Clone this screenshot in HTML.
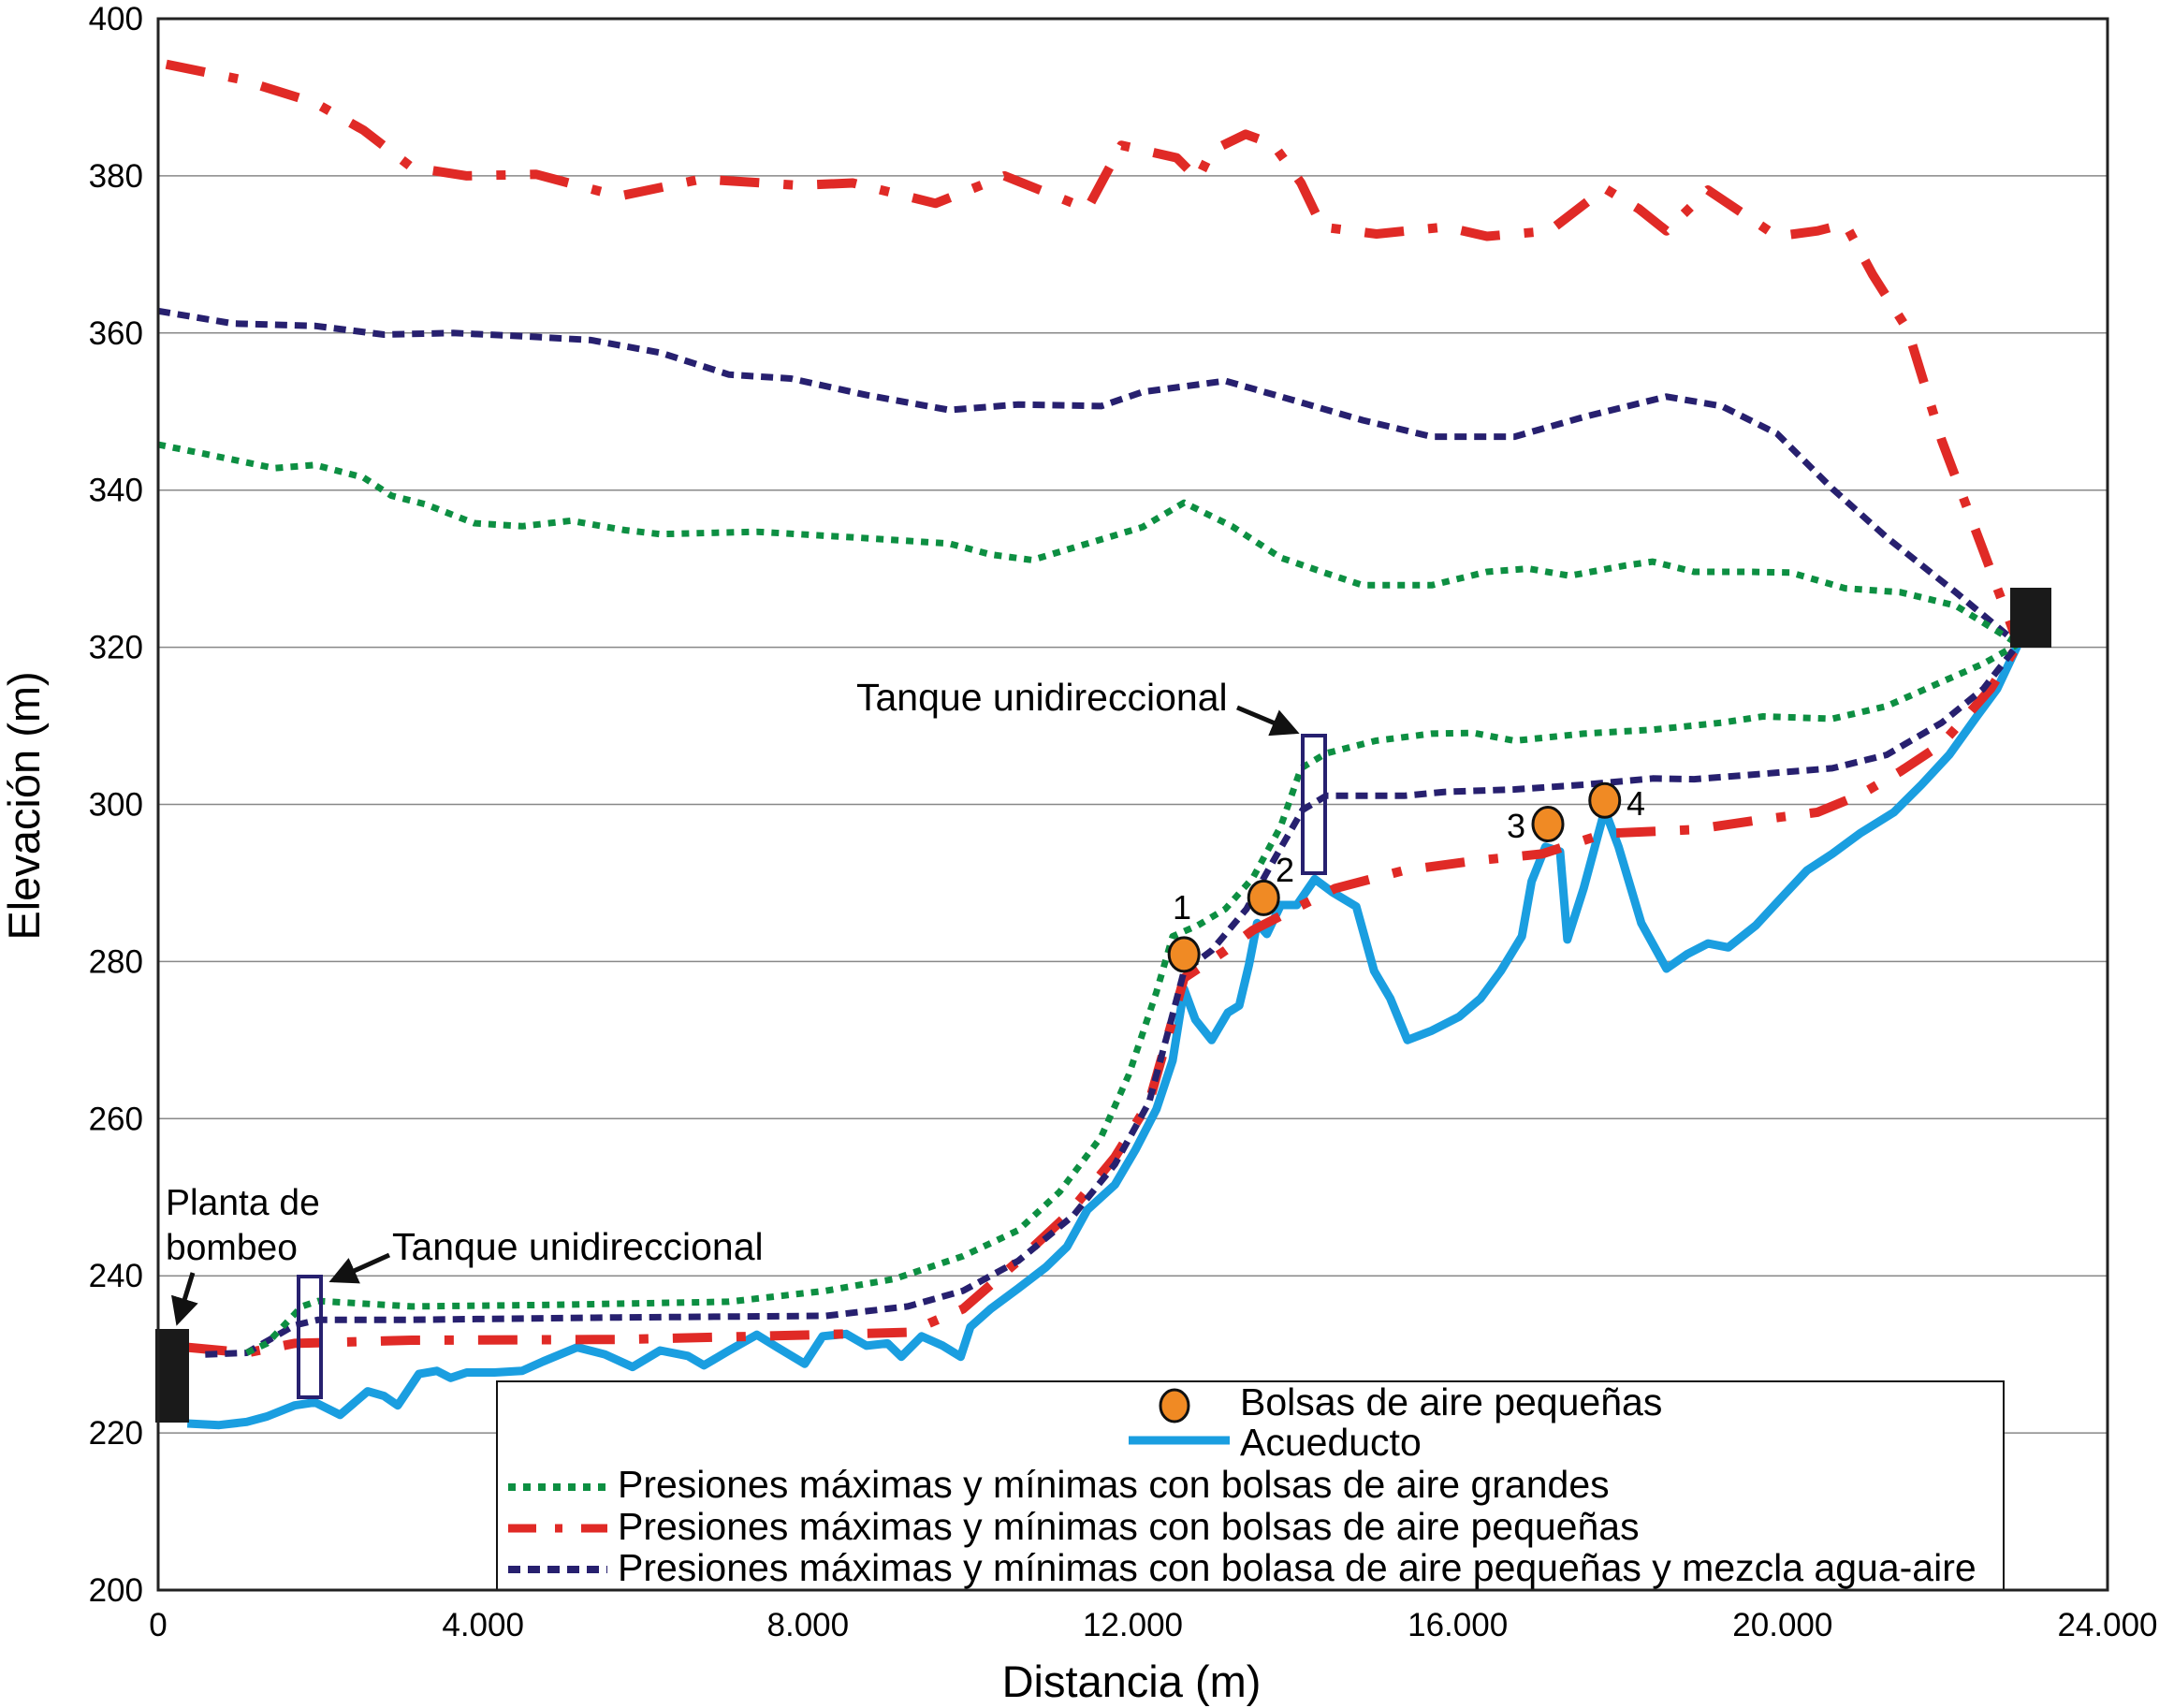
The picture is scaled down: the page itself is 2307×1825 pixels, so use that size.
<!DOCTYPE html>
<html><head><meta charset="utf-8"><style>
html,body{margin:0;padding:0;background:#fff;}
svg{display:block;font-family:"Liberation Sans",Arial,sans-serif;}
</style></head><body>
<svg id="chart" width="2307" height="1825" viewBox="0 0 2307 1825" xmlns="http://www.w3.org/2000/svg">
<g id="grid"></g>
<g id="series"></g>
<g id="axes"></g>
</svg>
<script>
const xTicks=[0,4,8,12,16,20,24];
const xTickLabels=["0","4.000","8.000","12.000","16.000","20.000","24.000"];
const yTicks=[200,220,240,260,280,300,320,340,360,380,400];
const acueductoX=[0.36,0.75,1.09,1.34,1.68,1.93,2.24,2.58,2.78,2.95,3.21,3.43,3.60,3.80,4.14,4.48,4.74,5.16,5.50,5.84,6.18,6.52,6.72,7.03,7.37,7.62,7.96,8.18,8.47,8.72,8.98,9.15,9.40,9.66,9.88,10.0,10.25,10.59,10.93,11.19,11.44,11.78,12.03,12.29,12.49,12.63,12.77,12.97,13.17,13.31,13.43,13.53,13.65,13.82,14.02,14.24,14.46,14.75,14.97,15.17,15.38,15.68,16.02,16.28,16.53,16.79,16.91,17.08,17.26,17.35,17.55,17.81,17.98,18.26,18.57,18.82,19.08,19.33,19.67,20.01,20.30,20.61,20.95,21.37,21.71,22.05,22.39,22.64,22.90];
const acueductoY=[221.2,221.0,221.4,222.1,223.5,223.9,222.3,225.3,224.7,223.5,227.5,227.9,227.0,227.7,227.7,227.9,229.1,230.9,230.0,228.4,230.5,229.8,228.6,230.5,232.5,230.9,228.8,232.3,232.6,231.1,231.4,229.7,232.3,231.1,229.7,233.5,235.8,238.4,241.1,243.7,248.4,251.6,256.0,261.2,267.4,276.5,272.6,270.0,273.5,274.4,279.6,284.9,283.5,287.2,287.2,290.5,288.8,287.0,278.8,275.3,270.0,271.2,273.0,275.3,278.8,283.2,290.2,294.6,294.0,282.8,289.3,299.3,294.6,284.9,279.1,280.9,282.3,281.8,284.6,288.4,291.6,293.7,296.3,299.0,302.5,306.3,311.2,314.7,320.4];
const greenMaxX=[0,0.58,1.43,1.93,2.53,2.87,3.29,3.89,4.48,5.08,5.75,6.18,7.37,8.55,9.74,10.25,10.76,11.44,12.12,12.63,13.22,13.82,14.33,14.83,15.68,16.36,16.87,17.38,18.06,18.40,18.91,19.59,20.10,20.77,21.45,22.13,22.9];
const greenMaxY=[345.8,344.6,342.8,343.2,341.6,339.3,338.2,335.8,335.4,336.1,334.9,334.4,334.7,334.0,333.2,331.8,331.1,333.2,335.3,338.4,335.4,331.4,329.6,327.9,327.9,329.6,330.0,329.1,330.4,330.9,329.6,329.6,329.5,327.5,327.0,325.3,320.4];
const greenMinX=[1.09,1.34,1.77,1.97,3.12,4.82,7.03,8.22,9.06,9.91,10.59,11.10,11.61,11.95,12.29,12.49,12.80,13.14,13.48,13.82,14.07,14.38,14.99,15.68,16.19,16.70,17.55,18.40,19.25,19.76,20.61,21.28,21.96,22.47,22.9];
const greenMinY=[230.2,231.4,236.1,236.8,236.1,236.3,236.7,238.1,239.6,242.5,245.8,250.7,257.7,265.6,276.1,283.2,284.6,286.7,290.7,297.2,304.6,306.5,308.1,309.0,309.1,308.1,309.0,309.5,310.4,311.2,310.9,312.5,315.6,317.9,320.4];
const navyMaxX=[0,0.92,1.93,2.78,3.63,4.48,5.33,6.18,7.03,7.79,8.72,9.74,10.59,11.61,12.12,13.14,13.82,14.83,15.68,16.70,17.55,18.57,19.25,19.93,20.61,21.28,22.13,22.9];
const navyMaxY=[362.8,361.2,360.9,359.8,360.0,359.6,359.1,357.5,354.7,354.2,352.1,350.2,350.9,350.7,352.5,353.9,351.9,348.9,346.8,346.8,349.3,351.9,350.7,347.2,340.2,334.0,327.0,320.4];
const navyMinX=[0.58,1.09,1.68,1.97,3.12,5.67,8.22,9.23,9.91,10.59,11.27,11.78,12.20,12.43,12.63,12.97,13.40,13.73,14.09,14.38,15.34,15.85,16.70,17.55,18.40,18.91,19.76,20.61,21.28,21.96,22.47,22.9];
const navyMinY=[230.0,230.2,233.7,234.4,234.4,234.7,234.9,236.1,238.1,241.9,247.7,254.2,262.1,270.9,278.8,281.4,286.7,292.8,299.3,301.1,301.1,301.6,301.9,302.5,303.3,303.2,303.9,304.6,306.3,310.4,314.7,320.4];
const redMaxX=[0.10,1.00,1.93,2.53,3.12,3.80,4.65,5.67,6.69,7.88,8.55,9.57,10.42,11.44,11.86,12.54,12.80,12.97,13.39,13.73,14.07,14.33,15.00,15.85,16.36,17.13,17.81,18.23,18.57,19.08,19.50,19.93,20.43,20.77,21.11,21.54,21.96,22.47,22.9];
const redMaxY=[394.2,392.3,389.3,385.8,381.1,380.0,380.2,377.4,379.6,378.8,379.1,376.5,380.0,375.8,383.9,382.3,379.6,383.2,385.3,384.0,379.1,373.5,372.6,373.5,372.3,373.0,378.4,375.8,373.0,378.2,375.3,372.3,373.0,373.9,367.4,360.4,346.3,332.3,320.4];
const redMinX=[0.36,1.09,1.68,3.12,5.67,7.37,9.23,9.91,10.59,11.19,11.78,12.20,12.49,12.63,13.14,13.48,13.99,14.49,15.34,16.19,17.04,17.81,18.91,19.76,20.43,20.95,21.45,21.96,22.56,22.9];
const redMinY=[230.9,230.2,231.4,231.8,231.9,232.3,232.8,235.8,241.9,247.7,255.1,262.1,272.6,277.9,281.4,284.0,286.7,289.3,291.6,292.8,293.7,296.3,296.8,298.1,299.0,301.2,304.2,307.7,314.7,320.4];
const bubbleX=[12.63,13.61,17.11,17.81];
const bubbleY=[280.9,288.1,297.5,300.5];

const NS="http://www.w3.org/2000/svg";
const L=169,R=2252,T=20,B=1699;
function X(k){return L+(k-0)/(24-0)*(R-L);}
function Y(e){return B-(e-200)/(400-200)*(B-T);}
function mk(tag,attrs,parent){const el=document.createElementNS(NS,tag);for(const k in attrs)el.setAttribute(k,attrs[k]);parent.appendChild(el);return el;}
const grid=document.getElementById('grid'),ser=document.getElementById('series'),ax=document.getElementById('axes');

yTicks.forEach(v=>{
  if(v>200&&v<400){const g=mk('line',{x1:L,x2:R,y1:Y(v),y2:Y(v),stroke:'#888','stroke-width':1.5},grid);
  
  }
  const t=mk('text',{x:153,y:Y(v)+12,'text-anchor':'end','font-size':35,fill:'#000'},ax);
  t.textContent=v;
  
  
});
xTicks.forEach((v,i)=>{
  const t=mk('text',{x:X(v),y:1748,'text-anchor':'middle','font-size':35,fill:'#000'},ax);
  t.textContent=xTickLabels[i];
  
  
});

function line(xs,ys,style,name){
  const d=xs.map((x,i)=>(i?'L':'M')+X(x).toFixed(1)+','+Y(ys[i]).toFixed(1)).join(' ');
  const p=mk('path',Object.assign({d:d,fill:'none','stroke-linejoin':'round'},style),ser);
  
  
}
const green={stroke:'#0d8f42','stroke-width':7,'stroke-dasharray':'8 8'};
const red={stroke:'#e02a26','stroke-width':10,'stroke-dasharray':'42 26 10 26'};
const navy={stroke:'#27206f','stroke-width':7,'stroke-dasharray':'13 8'};
line(redMaxX,redMaxY,red,'red-max-line');
line(navyMaxX,navyMaxY,navy,'navy-max-line');
line(greenMaxX,greenMaxY,green,'green-max-line');
line(acueductoX,acueductoY,{stroke:'#1a9ee0','stroke-width':9},'acueducto-line');
line(redMinX,redMinY,red,'red-min-line');
line(navyMinX,navyMinY,navy,'navy-min-line');
line(greenMinX,greenMinY,green,'green-min-line');
bubbleX.forEach((bx,i)=>{
  const c=mk('ellipse',{cx:X(bx),cy:Y(bubbleY[i]),rx:16,ry:18,fill:'#f08a24',stroke:'#111','stroke-width':3},ser);
  
  
});
</script>
<svg style="position:absolute;left:0;top:0" width="2307" height="1825" font-family="Liberation Sans, Arial, sans-serif">
<defs><marker id="ah2" markerWidth="6" markerHeight="6" refX="5" refY="3" orient="auto" viewBox="0 0 6 6"><path d="M0,0 L6,3 L0,6 z" fill="#111"/></marker></defs>
<rect x="166" y="1420" width="36" height="100" fill="#1a1a1a"/>
<rect x="2148" y="628" width="44" height="64" fill="#1a1a1a"/>
<rect x="319" y="1364" width="24" height="129" fill="none" stroke="#27206f" stroke-width="4"/>
<rect x="1392" y="786" width="24" height="147" fill="none" stroke="#27206f" stroke-width="4"/>
<text x="1263" y="982" font-size="36" text-anchor="middle">1</text>
<text x="1373" y="942" font-size="36" text-anchor="middle">2</text>
<text x="1620" y="895" font-size="36" text-anchor="middle">3</text>
<text x="1748" y="871" font-size="36" text-anchor="middle">4</text>
<text x="915" y="759" font-size="41">Tanque unidireccional</text>
<line x1="1322" y1="756" x2="1384" y2="782" stroke="#111" stroke-width="5" marker-end="url(#ah2)"/>
<text x="419" y="1346" font-size="41">Tanque unidireccional</text>
<line x1="416" y1="1341" x2="356" y2="1368" stroke="#111" stroke-width="5" marker-end="url(#ah2)"/>
<text x="177" y="1298" font-size="39">Planta de</text>
<text x="177" y="1346" font-size="39">bombeo</text>
<line x1="206" y1="1360" x2="190" y2="1412" stroke="#111" stroke-width="5" marker-end="url(#ah2)"/>
<g>
<rect x="531" y="1476" width="1610" height="223" fill="#fff" stroke="#111" stroke-width="2"/>
<ellipse cx="1255" cy="1502" rx="15" ry="17" fill="#f08a24" stroke="#111" stroke-width="3"/>
<text x="1325" y="1512" font-size="41">Bolsas de aire pequeñas</text>
<line x1="1206" y1="1539" x2="1314" y2="1539" stroke="#1a9ee0" stroke-width="9"/>
<text x="1325" y="1555" font-size="41">Acueducto</text>
<line x1="543" y1="1589" x2="649" y2="1589" stroke="#0d8f42" stroke-width="8" stroke-dasharray="8 8"/>
<text x="660" y="1600" font-size="41">Presiones máximas y mínimas con bolsas de aire grandes</text>
<line x1="543" y1="1633" x2="649" y2="1633" stroke="#e02a26" stroke-width="9" stroke-dasharray="30 20 8 20"/>
<text x="660" y="1645" font-size="41">Presiones máximas y mínimas con bolsas de aire pequeñas</text>
<line x1="543" y1="1677" x2="649" y2="1677" stroke="#27206f" stroke-width="8" stroke-dasharray="13 8"/>
<text x="660" y="1689" font-size="41">Presiones máximas y mínimas con bolasa de aire pequeñas y mezcla agua-aire</text>
</g>
<rect x="169" y="20" width="2083" height="1679" fill="none" stroke="#222" stroke-width="3"/>
<text x="1209" y="1813" font-size="47" text-anchor="middle">Distancia (m)</text>
<text x="42" y="861" font-size="47" text-anchor="middle" transform="rotate(-90 42 861)">Elevación (m)</text>
</svg>
</body></html>
